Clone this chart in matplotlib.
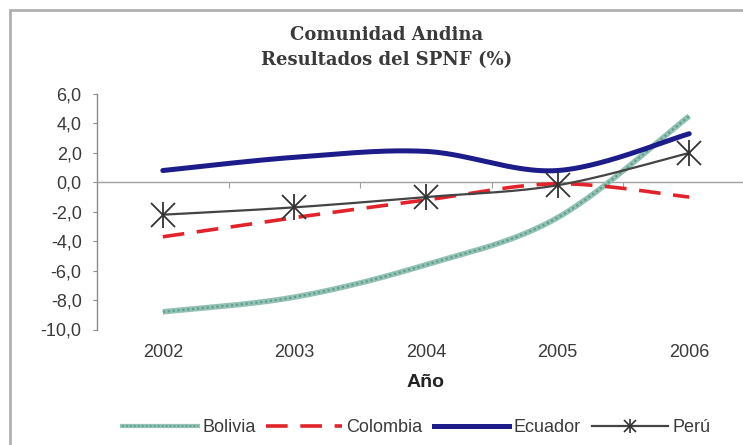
import numpy as np
import matplotlib
matplotlib.use("Agg")
import matplotlib.pyplot as plt
from matplotlib.patches import Rectangle
from matplotlib.lines import Line2D

# ---------------- data ----------------
years = ["2002", "2003", "2004", "2005", "2006"]
bolivia = [-8.8, -7.8, -5.6, -2.4, 4.5]
colombia = [-3.7, -2.4, -1.2, -0.1, -1.0]
ecuador = [0.8, 1.7, 2.1, 0.8, 3.3]
peru = [-2.2, -1.7, -1.0, -0.2, 2.0]
ytick_vals = [-10, -8, -6, -4, -2, 0, 2, 4, 6]
ytick_labels = ["-10,0", "-8,0", "-6,0", "-4,0", "-2,0", "0,0", "2,0", "4,0", "6,0"]
title = "Comunidad Andina\nResultados del SPNF (%)"
xlabel = "Año"


def smooth(vals, n=50):
    """Excel-like smoothed line (Catmull-Rom Bezier) through the data points."""
    pts = np.column_stack([np.arange(len(vals), dtype=float), np.asarray(vals, float)])
    out = []
    m = len(pts)
    t = np.linspace(0, 1, n)[:, None]
    for i in range(m - 1):
        p0, p1, p2, p3 = pts[max(i - 1, 0)], pts[i], pts[i + 1], pts[min(i + 2, m - 1)]
        c1 = p1 + (p2 - p0) / 6.0
        c2 = p2 - (p3 - p1) / 6.0
        seg = ((1 - t) ** 3) * p1 + 3 * ((1 - t) ** 2) * t * c1 + 3 * (1 - t) * t ** 2 * c2 + t ** 3 * p2
        out.append(seg if i == 0 else seg[1:])
    s = np.vstack(out)
    return s[:, 0], s[:, 1]


W, H = 743, 445
fig = plt.figure(figsize=(W / 100, H / 100), dpi=100)
fig.patch.set_facecolor("white")

# outer chart frame (cropped at right/bottom like the reference)
fig.add_artist(Rectangle((10 / W, -0.1), 1.2, 1 - 10 / H + 0.1, transform=fig.transFigure,
                         fill=False, edgecolor="#b0b0b0", linewidth=2.0))

ax = fig.add_axes([97 / W, 1 - 329.5 / H, (755 - 97) / W, (329.5 - 94) / H])
ax.set_xlim(-0.5, len(years) - 0.5)
ax.set_ylim(-10, 6)

TXT = "#3a3a3a"
for s in ["top", "right"]:
    ax.spines[s].set_visible(False)
ax.spines["left"].set_color("#8c8c8c")
ax.spines["left"].set_linewidth(1.0)
ax.spines["bottom"].set_position(("data", 0))
ax.spines["bottom"].set_color("#a0a0a0")
ax.spines["bottom"].set_linewidth(1.0)

ax.set_yticks(ytick_vals)
ax.set_yticklabels(ytick_labels, fontsize=13, color=TXT, family="Liberation Sans")
ax.tick_params(axis="y", direction="out", length=3, color="#8c8c8c", pad=8)
ax.set_xticks(np.arange(len(years) - 1) + 0.5)
ax.set_xticklabels([])
ax.tick_params(axis="x", direction="out", length=4, color="#a0a0a0")

for i, yr in enumerate(years):
    ax.text(i, -0.096, yr, transform=ax.get_xaxis_transform(), ha="center", va="center",
            fontsize=13, color=TXT, family="Liberation Sans")
ax.text(2, -0.225, xlabel, transform=ax.get_xaxis_transform(), ha="center", va="center",
        fontsize=14, fontweight="bold", color="#222222", family="Liberation Sans")

fig.text(387 / W, 1 - 48 / H, title, ha="center", va="center", fontsize=13,
         fontweight="bold", color=TXT, family="DejaVu Serif", linespacing=1.5)

# series
bx, by = smooth(bolivia)
ax.plot(bx, by, color="#93c2b5", lw=4.0, solid_capstyle="butt", zorder=3)
ax.plot(bx, by, color="#5e9c8c", lw=1.6, ls=(0, (1, 1.2)), zorder=3)

cx, cy = smooth(colombia)
ax.plot(cx, cy, color="#e3232b", lw=2.6, ls=(0, (6, 3.5)), zorder=3)

ex, ey = smooth(ecuador)
ax.plot(ex, ey, color="#1c1c8a", lw=3.6, solid_capstyle="round", zorder=4)

px, py = smooth(peru)
ax.plot(px, py, color="#444444", lw=1.6, zorder=5)
ax.plot(np.arange(len(peru)), peru, ls="none", marker="x", ms=17, mew=1.3, color="#333333", zorder=6)
ax.plot(np.arange(len(peru)), peru, ls="none", marker="|", ms=19, mew=1.3, color="#333333", zorder=6)

# legend
h_bol = (Line2D([], [], color="#93c2b5", lw=3.0), Line2D([], [], color="#5e9c8c", lw=1.3, ls=(0, (1, 1.2))))
h_col = Line2D([], [], color="#e3232b", lw=2.6, ls=(0, (6, 3.5)))
h_ecu = Line2D([], [], color="#1c1c8a", lw=3.6)
h_per = (Line2D([], [], color="#444444", lw=1.6, marker="x", ms=8, mew=1.2, markeredgecolor="#333333"),
         Line2D([], [], ls="none", marker="|", ms=10, mew=1.2, color="#333333"))
leg = fig.legend([h_bol, h_col, h_ecu, h_per], ["Bolivia", "Colombia", "Ecuador", "Perú"],
                 loc="center", bbox_to_anchor=(416 / W, 1 - 428 / H), ncol=4, frameon=False,
                 handlelength=4.2, handletextpad=0.25, columnspacing=0.6,
                 prop={"family": "Liberation Sans", "size": 13})
for t in leg.get_texts():
    t.set_color(TXT)

fig.savefig("out.png", dpi=100, facecolor="white")
